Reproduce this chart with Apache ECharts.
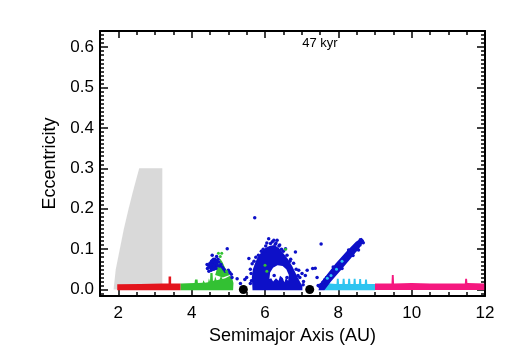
<!DOCTYPE html>
<html>
<head>
<meta charset="utf-8">
<script src="https://cdn.jsdelivr.net/npm/echarts@6/dist/echarts.min.js"></script>
<style>
html,body{margin:0;padding:0;background:#fff;}
#chart{width:514px;height:360px;}
</style>
</head>
<body>
<div id="chart"></div>
<script>
// ---- Data (semimajor axis AU, eccentricity) ----
const titleText = '47 kyr';
const xTickLabels = [2, 4, 6, 8, 10, 12];
const yTickLabels = [0, 0.1, 0.2, 0.3, 0.4, 0.5, 0.6];

// grey region (outline)
const greyZone = [[1.87,0],[1.93,0.05],[2.04,0.1],[2.15,0.15],[2.28,0.2],[2.42,0.25],[2.57,0.3],[3.2,0.3],[3.2,0]];

// low-eccentricity bands (outlines)
const redBand = [[1.97,-0.002],[1.97,0.013],[2.6,0.014],[3.2,0.015],[3.37,0.015],[3.37,0.032],[3.44,0.032],[3.44,0.015],[3.7,0.015],[3.7,-0.002]];
const greenBand = [[3.7,-0.002],[3.7,0.015],[4.08,0.016],[4.09,0.025],[4.16,0.025],[4.17,0.016],[4.3,0.017],[4.32,0.023],[4.36,0.017],[4.45,0.018],[4.47,0.028],[4.5,0.019],[4.51,0.041],[4.57,0.041],[4.58,0.021],[4.62,0.023],[4.64,0.032],[4.68,0.023],[4.76,0.025],[4.8,0.034],[4.84,0.026],[4.92,0.028],[4.98,0.031],[5.05,0.034],[5.1,0.03],[5.14,0.016],[5.13,-0.002]];
const cyanBand = [[7.62,-0.002],[7.6,0.008],[7.63,0.02],[7.7,0.022],[7.76,0.015],[7.95,0.014],[7.96,0.027],[8.01,0.027],[8.02,0.014],[8.11,0.014],[8.12,0.027],[8.17,0.027],[8.18,0.014],[8.26,0.014],[8.27,0.027],[8.32,0.027],[8.33,0.014],[8.41,0.014],[8.42,0.027],[8.47,0.027],[8.48,0.014],[8.56,0.014],[8.57,0.026],[8.62,0.026],[8.63,0.014],[8.72,0.014],[8.73,0.025],[8.78,0.025],[8.79,0.014],[9.0,0.014],[9.0,-0.002]];
const magentaBand = [[9.0,-0.001],[9.0,0.015],[9.45,0.015],[9.46,0.036],[9.51,0.036],[9.52,0.015],[10.0,0.016],[10.5,0.015],[11.45,0.015],[11.46,0.027],[11.51,0.027],[11.52,0.016],[11.98,0.015],[11.98,-0.001]];

// clusters (outlines)
const greenTriangle = [[4.64,0.036],[4.72,0.06],[4.78,0.076],[4.84,0.068],[4.92,0.052],[5.04,0.036],[4.85,0.03]];
const blueSmallBlob = [[4.46,0.058],[4.5,0.072],[4.58,0.079],[4.66,0.077],[4.74,0.07],[4.72,0.052],[4.62,0.048],[4.52,0.046]];
const blueBigCluster = [[5.66,-0.002],[5.64,0.03],[5.67,0.05],[5.73,0.066],[5.8,0.08],[5.9,0.092],[6.0,0.102],[6.12,0.108],[6.25,0.11],[6.38,0.103],[6.5,0.09],[6.62,0.076],[6.74,0.058],[6.84,0.04],[6.94,0.022],[7.02,0.008],[7.02,-0.002]];
const bigClusterHole = [[6.12,0.026],[6.14,0.042],[6.22,0.054],[6.34,0.06],[6.48,0.058],[6.58,0.05],[6.65,0.036],[6.63,0.022],[6.57,0.029],[6.53,0.018],[6.47,0.03],[6.41,0.034],[6.37,0.022],[6.3,0.028],[6.22,0.02],[6.17,0.028]];
const blueStreak = [[7.46,-0.002],[7.62,-0.002],[7.8,0.02],[8.05,0.046],[8.35,0.078],[8.58,0.104],[8.7,0.12],[8.64,0.128],[8.48,0.118],[8.22,0.094],[7.92,0.064],[7.68,0.036],[7.49,0.014]];

// individual particles
const bluePoints = [
 [4.43,0.052],[4.45,0.06],[4.48,0.055],[4.5,0.065],[4.52,0.06],[4.55,0.07],[4.56,0.085],[4.58,0.062],[4.6,0.068],[4.62,0.058],[4.63,0.075],[4.65,0.065],[4.66,0.052],[4.68,0.07],[4.7,0.06],[4.72,0.075],[4.74,0.068],[4.76,0.058],[4.8,0.062],[4.84,0.055],[4.88,0.05],[4.92,0.045],[4.97,0.101],[5.0,0.048],[5.04,0.042],[5.08,0.038],[5.1,0.03],[5.24,0.027],[5.33,0.015],[4.53,0.048],[4.47,0.045],[4.6,0.05],[4.42,0.062],[4.68,0.082],
 [5.45,0.025],[5.5,0.03],[5.56,0.077],[5.6,0.015],[5.62,0.04],[5.65,0.064],[5.72,0.178],[5.6,0.05],[5.63,0.022],
 [5.7,0.07],[5.75,0.08],[5.82,0.085],[5.9,0.095],[5.95,0.1],[6.02,0.108],[6.1,0.126],[6.15,0.114],[6.2,0.118],[6.24,0.122],[6.28,0.112],[6.33,0.122],[6.38,0.108],[6.45,0.1],[6.5,0.095],[6.56,0.101],[6.6,0.085],[6.7,0.075],[6.78,0.065],[6.83,0.093],[6.85,0.05],[6.92,0.048],[6.95,0.03],[7.01,0.04],[7.05,0.02],[7.1,0.035],[6.0,0.095],[6.4,0.11],[6.25,0.035],[6.45,0.025],[6.6,0.03],[6.05,0.115],[6.3,0.115],[6.68,0.07],[6.9,0.035],[7.04,0.012],
 [7.48,0.008],[7.52,0.012],[7.55,0.004],[7.58,0.018],[7.6,0.01],[7.63,0.024],[7.66,0.02],[7.68,0.03],[7.71,0.026],[7.74,0.035],[7.76,0.03],[7.79,0.04],[7.82,0.037],[7.85,0.046],[7.88,0.042],[7.9,0.052],[7.93,0.048],[7.96,0.058],[7.99,0.053],[8.02,0.062],[8.05,0.058],[8.08,0.068],[8.11,0.064],[8.14,0.074],[8.17,0.07],[8.2,0.08],[8.23,0.076],[8.26,0.085],[8.29,0.081],[8.32,0.09],[8.35,0.086],[8.38,0.096],[8.41,0.092],[8.44,0.102],[8.47,0.098],[8.5,0.107],[8.53,0.104],[8.56,0.112],[8.59,0.11],[8.62,0.118],[8.65,0.12],[8.6,0.123],[8.68,0.116],[8.4,0.084],[8.1,0.052],[7.86,0.056],[8.28,0.098],[8.55,0.098],
 [7.53,0.113],[7.37,0.053],[7.15,0.048],[7.3,0.052],[7.45,0.01],[7.42,0.03]
];
const greenPoints = [[4.73,0.09],[4.82,0.09],[4.78,0.082],[4.95,0.045],[6.05,0.045],[6.56,0.1],[6.0,0.06]];
const cyanPoints = [[7.7,0.028],[7.8,0.035],[7.95,0.05],[8.1,0.07]];
const planets = [[5.41,0.0],[7.22,0.0]];

// ---- Chart ----
const FONT = 'Liberation Sans, Arial, Helvetica, sans-serif';
const xMinor = [];
for (let v = 1.5; v <= 12.001; v += 0.5) { if (Math.abs(v % 2) > 1e-6) xMinor.push(+v.toFixed(2)); }
const yMinor = [];
for (let i = -1; i <= 63; i++) { if (i % 10 !== 0) yMinor.push(+(i / 100).toFixed(2)); }

function polygonSeries(pts, color, z) {
  return {
    type: 'custom', data: pts, z: z, silent: true, encode: { x: 0, y: 1 },
    renderItem: function (params, api) {
      if (params.dataIndex !== 0) return null;
      return { type: 'polygon', shape: { points: pts.map(function (p) { return api.coord(p); }) }, style: { fill: color } };
    }
  };
}
function scatterSeries(pts, color, size, z) {
  return { type: 'scatter', data: pts, symbol: 'circle', symbolSize: size, z: z, silent: true,
    itemStyle: { color: color, opacity: 1 } };
}

const X_MIN = 1.5, X_MAX = 12, Y_MIN = -0.016, Y_MAX = 0.64;
const lineStyle = { color: '#000', width: 2 };
function xAx(pos, ticks, len, showLine, labels) {
  return { type: 'value', min: X_MIN, max: X_MAX, position: pos,
    axisLine: { show: showLine, onZero: false, lineStyle: lineStyle },
    axisTick: { show: true, inside: true, length: len, customValues: ticks, lineStyle: { color: '#000', width: 1.5 } },
    axisLabel: labels ? { customValues: xTickLabels, fontSize: 17, color: '#000', margin: 9, fontFamily: FONT } : { show: false },
    splitLine: { show: false } };
}
function yAx(pos, ticks, len, showLine, labels) {
  return { type: 'value', min: Y_MIN, max: Y_MAX, position: pos,
    axisLine: { show: showLine, onZero: false, lineStyle: lineStyle },
    axisTick: { show: true, inside: true, length: len, customValues: ticks, lineStyle: { color: '#000', width: 1.5 } },
    axisLabel: labels ? { customValues: yTickLabels, fontSize: 17, color: '#000', margin: 6, fontFamily: FONT,
      formatter: function (v) { return v.toFixed(1); } } : { show: false },
    splitLine: { show: false } };
}

const xAxes = [xAx('bottom', xTickLabels, 7, true, true), xAx('bottom', xMinor, 4, false, false),
               xAx('top', xTickLabels, 7, true, false), xAx('top', xMinor, 4, false, false)];
xAxes[0].name = 'Semimajor Axis (AU)';
xAxes[0].nameLocation = 'middle';
xAxes[0].nameGap = 31;
xAxes[0].nameTextStyle = { fontSize: 18, color: '#000', fontFamily: FONT };
const yAxes = [yAx('left', yTickLabels, 8, true, true), yAx('left', yMinor, 4, false, false),
               yAx('right', yTickLabels, 8, true, false), yAx('right', yMinor, 4, false, false)];
yAxes[0].name = 'Eccentricity';
yAxes[0].nameLocation = 'middle';
yAxes[0].nameGap = 41;
yAxes[0].nameTextStyle = { fontSize: 18, color: '#000', fontFamily: FONT };

const chart = echarts.init(document.getElementById('chart'), null, { renderer: 'canvas' });
chart.setOption({
  animation: false,
  backgroundColor: '#fff',
  grid: { left: 100, right: 29, top: 31, bottom: 64 },
  xAxis: xAxes,
  yAxis: yAxes,
  graphic: [{ type: 'text', x: 320, y: 43, style: { text: titleText, fill: '#000', fontSize: 13, fontFamily: FONT, textAlign: 'center', textVerticalAlign: 'middle' } }],
  series: [
    polygonSeries(greyZone, '#d9d9d9', 1),
    polygonSeries(redBand, '#e3141c', 3),
    polygonSeries(greenBand, '#33c133', 3),
    polygonSeries(cyanBand, '#2ec4f0', 3),
    polygonSeries(magentaBand, '#f5187f', 3),
    polygonSeries(blueSmallBlob, '#0d10c8', 4),
    polygonSeries(greenTriangle, '#33c133', 5),
    polygonSeries(blueBigCluster, '#0d10c8', 4),
    polygonSeries(bigClusterHole, '#ffffff', 5),
    polygonSeries(blueStreak, '#0d10c8', 4),
    scatterSeries(bluePoints, '#0d10c8', 3.5, 6),
    scatterSeries(greenPoints, '#33c133', 3, 7),
    scatterSeries(cyanPoints, '#2ec4f0', 3, 7),
    scatterSeries(planets, '#000', 9, 8)
  ]
});
</script>
</body>
</html>
